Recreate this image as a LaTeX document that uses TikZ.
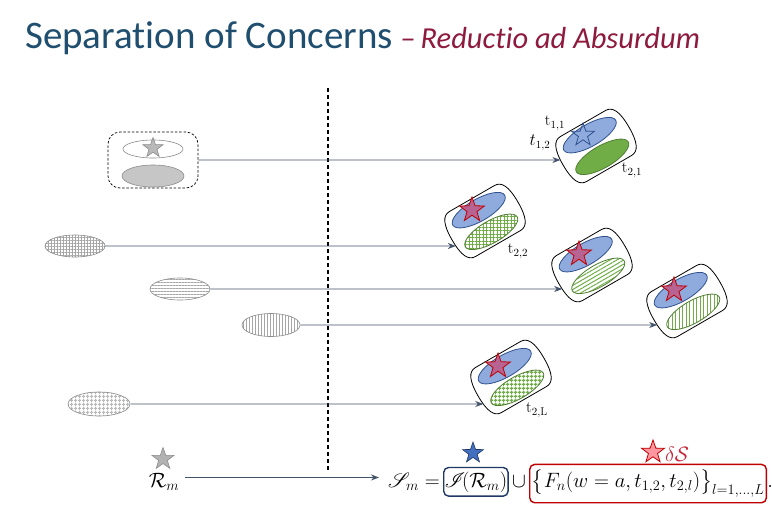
\documentclass[tikz,border=0pt]{standalone}
\usepackage{amsmath}
\usepackage{mathrsfs}
\usepackage{fontspec}
\newfontfamily\titlefont[Ligatures={NoCommon}]{Carlito}
\usetikzlibrary{shapes.geometric,patterns.meta,arrows.meta,intersections,calc}

\definecolor{titleblue}{RGB}{31,78,110}
\definecolor{titlered}{RGB}{142,27,62}
\definecolor{flowgray}{RGB}{68,84,106}
\definecolor{ellblue}{RGB}{143,170,220}
\definecolor{ellblueline}{RGB}{47,82,143}
\definecolor{ellgreen}{RGB}{112,173,71}
\definecolor{ellgreenline}{RGB}{80,126,50}
\definecolor{starred}{RGB}{192,0,0}
\definecolor{starfill}{RGB}{184,100,146}
\definecolor{boxblue}{RGB}{31,56,100}
\definecolor{srcline}{RGB}{140,140,140}

\tikzset{
  flow/.style={draw=flowgray, line width=0.9pt, -{Stealth[length=8pt,width=6pt]}},
  capsule/.style={draw=black, line width=0.8pt, fill=white},
  blueell/.style={draw=ellblueline, fill=ellblue, line width=0.8pt},
  greenell/.style={draw=ellgreenline, line width=0.8pt},
  starshape/.style={shape=star, star points=5, star point ratio=2.5, inner sep=0pt, minimum size=#1},
  redstar/.style={starshape=26pt, draw=starred, fill=starfill, line width=0.8pt},
  srcell/.style={shape=ellipse, draw=srcline, line width=0.6pt, inner sep=0pt},
  lbl/.style={font=\fontsize{16}{18}\selectfont, inner sep=0pt},
  fml/.style={font=\fontsize{19.5}{23}\selectfont, inner sep=0pt},
}

% a tilted capsule holding a blue and a green ellipse
% #1 centre, #2 path name, #3 look of the green ellipse
\newcommand{\drawcapsule}[3]{%
  \begin{scope}[shift={#1}, rotate=30]
    \draw[capsule, name path global=#2]
      (-26,26) -- (26,26) .. controls (34,26) and (38,18) .. (38,0)
      .. controls (38,-18) and (34,-26) .. (26,-26) -- (-26,-26)
      .. controls (-34,-26) and (-38,-18) .. (-38,0)
      .. controls (-38,18) and (-34,26) .. (-26,26) -- cycle;
    \draw[blueell] (0,-12.5) ellipse [x radius=30, y radius=11];
    \draw[greenell, #3] (0,12.5) ellipse [x radius=30, y radius=11];
  \end{scope}}

% a horizontal flow from node #1 to the first point where it meets path #2
\newcommand{\flowto}[3]{%
  \path[name path=ray#3] (#1.east) -- ++(520,0);
  \path[name intersections={of=ray#3 and #2, by={hit#3}, sort by=ray#3}];
  \draw[flow] (#1.east) -- (hit#3);}

\begin{document}
\begin{tikzpicture}[x=1pt, y=-1pt]
  \path[fill=white, use as bounding box] (0,0) rectangle (772,507);

  % heading
  \node[anchor=base west, inner sep=0pt] (title) at (25,48)
    {\titlefont\fontsize{39}{43}\selectfont\color{titleblue}Separation of Concerns};
  \node[anchor=base west, inner sep=0pt] (subtitle) at (title.base east)
    {\titlefont\itshape\fontsize{30.5}{34}\selectfont\color{titlered}\ –\,Reductio ad Absurdum};

  % dashed separator
  \coordinate (vtop) at (328,88);
  \coordinate (vbot) at (328,472);
  \draw[line width=1.1pt, dash pattern=on 4pt off 3pt] (vtop) -- (vbot);

  % sources on the left
  \node[draw, line width=0.7pt, dash pattern=on 2.5pt off 1.8pt, rounded corners=12pt,
        minimum width=90pt, minimum height=56pt] (srcA) at (153,160) {};
  \node[srcell, fill=white, minimum width=60pt, minimum height=18pt] (srcAup) at (153,149) {};
  \node[starshape=21pt, draw=gray!90, fill=gray!55, line width=0.6pt] (srcAstar) at (153,148) {};
  \node[srcell, fill=gray!45, minimum width=62pt, minimum height=22pt] (srcAlow) at (153,176) {};

  \node[srcell, minimum width=60pt, minimum height=22pt,
        pattern={Hatch[angle=0, distance=3pt, line width=0.4pt]}, pattern color=gray!70] (srcB) at (75,246) {};
  \node[srcell, minimum width=60pt, minimum height=22pt,
        pattern={Lines[angle=0, distance=3pt, line width=0.5pt]}, pattern color=gray!70] (srcC) at (180,289) {};
  \node[srcell, minimum width=58pt, minimum height=23pt,
        pattern={Lines[angle=90, distance=3pt, line width=0.5pt]}, pattern color=gray!70] (srcD) at (271,325) {};
  \node[srcell, minimum width=62pt, minimum height=24pt,
        pattern={Hatch[angle=0, distance=4pt, line width=1.3pt]}, pattern color=gray!55] (srcE) at (99,404) {};

  % capsules on the right
  \drawcapsule{(596,146)}{capA}{fill=ellgreen}
  \drawcapsule{(485,221)}{capB}{pattern={Hatch[angle=0, distance=3.5pt, line width=0.6pt]}, pattern color=ellgreen}
  \drawcapsule{(592,265)}{capC}{pattern={Lines[angle=30, distance=3.5pt, line width=1pt]}, pattern color=ellgreen}
  \drawcapsule{(687,301)}{capD}{pattern={Lines[angle=90, distance=3.5pt, line width=1pt]}, pattern color=ellgreen}
  \drawcapsule{(511,377)}{capE}{pattern={Hatch[angle=0, distance=4pt, line width=1.5pt]}, pattern color=ellgreen}

  \node[starshape=24pt, draw=ellblueline, line width=0.8pt] (starA) at (583,135) {};
  \node[redstar] (starB) at (472,210) {};
  \node[redstar] (starC) at (579,254) {};
  \node[redstar] (starD) at (674,290) {};
  \node[redstar] (starE) at (498,366) {};

  \node[lbl] (t11) at (555,123) {$\mathrm{t}_{1,1}$};
  \node[lbl] (t12) at (540,143) {$t_{1,2}$};
  \node[lbl] (t21) at (632,170) {$\mathrm{t}_{2,1}$};
  \node[lbl] (t22) at (518,251) {$\mathrm{t}_{2,2}$};
  \node[lbl] (t2L) at (537,410) {$\mathrm{t}_{2,\mathrm{L}}$};

  % horizontal flows, each ending on its capsule
  \flowto{srcA}{capA}{A}
  \flowto{srcB}{capB}{B}
  \flowto{srcC}{capC}{C}
  \flowto{srcD}{capD}{D}
  \flowto{srcE}{capE}{E}

  % bottom line
  \node[starshape=23pt, draw=gray!90, fill=gray!60, line width=0.6pt] (rstar) at (163,459) {};
  \node[fml, anchor=base] (rm) at (164,487) {$\mathcal{R}_m$};
  \node[fml, anchor=base west] (sm) at (388,487) {$\mathscr{S}_m=$};
  \coordinate (rmout) at ($(rm.east)+(6,-4)$);
  \coordinate (smin) at ($(rmout -| sm.west)+(-9,0)$);
  \draw[flow] (rmout) -- (smin);
  \node[fml, anchor=base west, draw=boxblue, line width=1.4pt, rounded corners=5pt,
        inner xsep=1pt, inner ysep=4pt] (ibox) at (443,487) {$\mathscr{I}\!(\mathcal{R}_m)$};
  \node[fml, anchor=base west] (cup) at ($(ibox.base east)+(3,0)$) {$\cup$};
  \node[fml, anchor=base west, draw=starred, line width=1.4pt, rounded corners=5pt,
        inner xsep=2pt, inner ysep=5pt]
        (fbox) at ($(cup.base east)+(3,0)$) {$\bigl\{F_n(w=a,t_{1,2},t_{2,l})\bigr\}_{l=1,\dots,L}$};
  \node[fml, anchor=base west] (dot) at (fbox.base east) {$.$};

  \node[starshape=22pt, draw=boxblue, fill={rgb,255:red,68;green,110;blue,190}, line width=0.6pt] (bstar) at (473,453) {};
  \node[starshape=24pt, draw=starred, fill={rgb,255:red,255;green,150;blue,160}, line width=0.8pt] (dstar) at (653,452) {};
  \node[fml, anchor=west, text={rgb,255:red,200;green,40;blue,60}] (dS) at (665,454) {$\delta\mathcal{S}$};
\end{tikzpicture}
\end{document}
